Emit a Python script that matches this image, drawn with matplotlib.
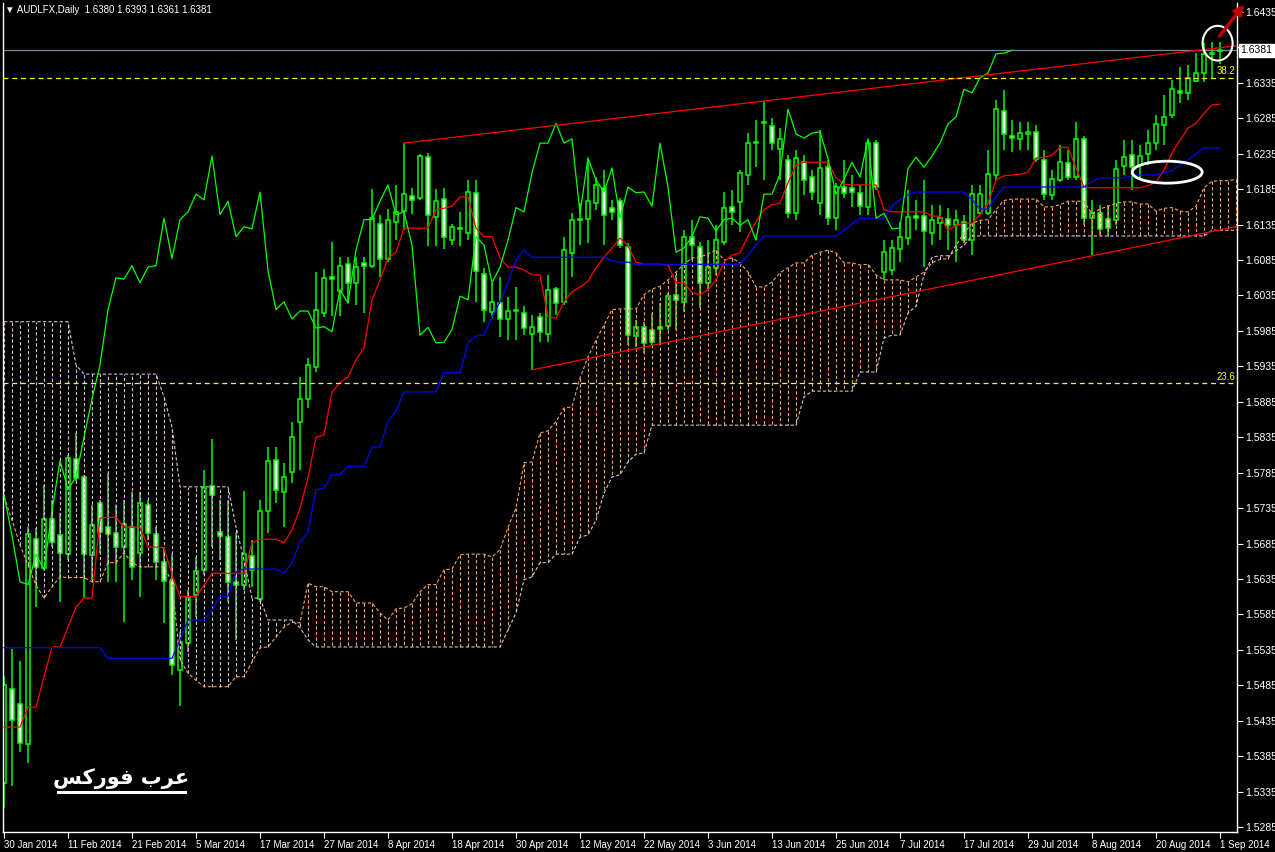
import numpy as np
import matplotlib
matplotlib.use("Agg")
import matplotlib.pyplot as plt
from matplotlib.patches import Ellipse

# AUDLFX daily candles, bar 0 = 30 Jan 2014
opens = [
    1.5347, 1.5480, 1.5459, 1.5402, 1.5691, 1.5651, 1.5720, 1.5697, 1.5670, 1.5804,
    1.5779, 1.5669, 1.5742, 1.5708, 1.5700, 1.5680, 1.5708, 1.5672, 1.5739, 1.5699,
    1.5659, 1.5632, 1.5507, 1.5545, 1.5612, 1.5648, 1.5766, 1.5701, 1.5694, 1.5631,
    1.5627, 1.5667, 1.5607, 1.5731, 1.5803, 1.5758, 1.5786, 1.5857, 1.5889, 1.5934,
    1.6010, 1.6061, 1.6041, 1.6080, 1.6053, 1.6081, 1.6077, 1.6136, 1.6087, 1.6139,
    1.6154, 1.6175, 1.6173, 1.6231, 1.6146, 1.6171, 1.6113, 1.6130, 1.6123, 1.6180,
    1.6065, 1.6012, 1.6024, 1.6002, 1.6015, 1.6010, 1.5980, 1.6004, 1.5981, 1.6044,
    1.6026, 1.6095, 1.6143, 1.6143, 1.6166, 1.6187, 1.6159, 1.6168, 1.6104, 1.5978,
    1.5990, 1.5986, 1.5991, 1.5992, 1.6036, 1.6026, 1.6118, 1.6104, 1.6053, 1.6074,
    1.6111, 1.6160, 1.6167, 1.6205, 1.6252, 1.6280, 1.6274, 1.6241, 1.6226, 1.6151,
    1.6223, 1.6202, 1.6166, 1.6216, 1.6144, 1.6188, 1.6186, 1.6180, 1.6160, 1.6250,
    1.6068, 1.6071, 1.6101, 1.6116, 1.6147, 1.6147, 1.6123, 1.6137, 1.6143, 1.6134,
    1.6139, 1.6113, 1.6151, 1.6151, 1.6205, 1.6295, 1.6260, 1.6256, 1.6263, 1.6266,
    1.6226, 1.6177, 1.6198, 1.6222, 1.6202, 1.6256, 1.6144, 1.6151, 1.6143, 1.6142,
    1.6217, 1.6233, 1.6219, 1.6235, 1.6250, 1.6276, 1.6290, 1.6324, 1.6321, 1.6338,
    1.6349, 1.6376, 1.6380,
]
highs = [
    1.5498, 1.5536, 1.5519, 1.5708, 1.5707, 1.5768, 1.5747, 1.5728, 1.5810, 1.5841,
    1.5782, 1.5739, 1.5747, 1.5785, 1.5739, 1.5747, 1.5758, 1.5758, 1.5747, 1.5708,
    1.5680, 1.5670, 1.5560, 1.5619, 1.5666, 1.5789, 1.5833, 1.5747, 1.5747, 1.5700,
    1.5759, 1.5690, 1.5747, 1.5821, 1.5821, 1.5799, 1.5857, 1.5920, 1.5947, 1.6068,
    1.6072, 1.6111, 1.6089, 1.6089, 1.6089, 1.6089, 1.6185, 1.6149, 1.6157, 1.6191,
    1.6250, 1.6187, 1.6235, 1.6236, 1.6185, 1.6187, 1.6136, 1.6153, 1.6198, 1.6198,
    1.6074, 1.6053, 1.6061, 1.6033, 1.6047, 1.6020, 1.6007, 1.6010, 1.6064, 1.6047,
    1.6118, 1.6151, 1.6166, 1.6229, 1.6202, 1.6212, 1.6170, 1.6173, 1.6109, 1.6000,
    1.5998, 1.6010, 1.6024, 1.6039, 1.6064, 1.6128, 1.6142, 1.6111, 1.6113, 1.6134,
    1.6181, 1.6184, 1.6212, 1.6264, 1.6283, 1.6309, 1.6285, 1.6272, 1.6233, 1.6240,
    1.6233, 1.6212, 1.6269, 1.6226, 1.6194, 1.6226, 1.6205, 1.6191, 1.6254, 1.6254,
    1.6113, 1.6113, 1.6139, 1.6184, 1.6170, 1.6198, 1.6163, 1.6163, 1.6159, 1.6156,
    1.6149, 1.6191, 1.6191, 1.6240, 1.6311, 1.6325, 1.6283, 1.6280, 1.6280, 1.6276,
    1.6240, 1.6212, 1.6247, 1.6240, 1.6280, 1.6260, 1.6170, 1.6163, 1.6163, 1.6226,
    1.6254, 1.6254, 1.6247, 1.6269, 1.6290, 1.6318, 1.6339, 1.6357, 1.6360, 1.6377,
    1.6391, 1.6393, 1.6393,
]
lows = [
    1.5312, 1.5343, 1.5391, 1.5375, 1.5596, 1.5648, 1.5680, 1.5603, 1.5662, 1.5773,
    1.5608, 1.5634, 1.5672, 1.5631, 1.5631, 1.5574, 1.5634, 1.5610, 1.5690, 1.5634,
    1.5573, 1.5500, 1.5456, 1.5532, 1.5581, 1.5641, 1.5680, 1.5662, 1.5603, 1.5549,
    1.5620, 1.5624, 1.5603, 1.5700, 1.5742, 1.5708, 1.5770, 1.5789, 1.5876, 1.5927,
    1.6005, 1.6006, 1.6006, 1.6024, 1.6022, 1.6010, 1.6074, 1.6061, 1.6082, 1.6113,
    1.6127, 1.6150, 1.6170, 1.6105, 1.6105, 1.6101, 1.6106, 1.6105, 1.6113, 1.6026,
    1.5998, 1.6003, 1.5976, 1.5972, 1.5972, 1.5979, 1.5930, 1.5969, 1.5969, 1.6007,
    1.6022, 1.6061, 1.6106, 1.6109, 1.6156, 1.6106, 1.6142, 1.6102, 1.5965, 1.5962,
    1.5954, 1.5965, 1.5965, 1.5986, 1.5986, 1.6012, 1.6085, 1.6017, 1.6043, 1.6064,
    1.6106, 1.6134, 1.6125, 1.6191, 1.6216, 1.6198, 1.6240, 1.6198, 1.6144, 1.6142,
    1.6177, 1.6170, 1.6149, 1.6135, 1.6127, 1.6173, 1.6160, 1.6149, 1.6149, 1.6184,
    1.6057, 1.6064, 1.6082, 1.6106, 1.6127, 1.6075, 1.6106, 1.6113, 1.6099, 1.6082,
    1.6109, 1.6092, 1.6149, 1.6149, 1.6198, 1.6240, 1.6237, 1.6240, 1.6240, 1.6223,
    1.6170, 1.6170, 1.6195, 1.6198, 1.6198, 1.6135, 1.6092, 1.6120, 1.6120, 1.6135,
    1.6205, 1.6184, 1.6198, 1.6219, 1.6240, 1.6247, 1.6285, 1.6307, 1.6311, 1.6336,
    1.6336, 1.6341, 1.6361,
]
closes = [
    1.5485, 1.5436, 1.5404, 1.5699, 1.5652, 1.5719, 1.5687, 1.5672, 1.5806, 1.5777,
    1.5670, 1.5711, 1.5701, 1.5699, 1.5680, 1.5713, 1.5652, 1.5742, 1.5700, 1.5659,
    1.5632, 1.5514, 1.5546, 1.5610, 1.5646, 1.5763, 1.5754, 1.5696, 1.5631, 1.5627,
    1.5670, 1.5648, 1.5731, 1.5802, 1.5761, 1.5779, 1.5835, 1.5889, 1.5937, 1.6015,
    1.6060, 1.6058, 1.6077, 1.6053, 1.6075, 1.6077, 1.6144, 1.6087, 1.6142, 1.6153,
    1.6178, 1.6170, 1.6232, 1.6149, 1.6168, 1.6118, 1.6132, 1.6129, 1.6181, 1.6070,
    1.6015, 1.6026, 1.6002, 1.6013, 1.6013, 1.5989, 1.5991, 1.5984, 1.6043, 1.6024,
    1.6099, 1.6142, 1.6142, 1.6168, 1.6191, 1.6149, 1.6153, 1.6106, 1.5979, 1.5990,
    1.5968, 1.5969, 1.5987, 1.6034, 1.6029, 1.6118, 1.6106, 1.6053, 1.6075, 1.6113,
    1.6159, 1.6153, 1.6208, 1.6250, 1.6250, 1.6278, 1.6250, 1.6256, 1.6151, 1.6229,
    1.6198, 1.6181, 1.6215, 1.6144, 1.6188, 1.6180, 1.6181, 1.6161, 1.6250, 1.6188,
    1.6096, 1.6102, 1.6118, 1.6146, 1.6144, 1.6126, 1.6142, 1.6144, 1.6134, 1.6142,
    1.6113, 1.6178, 1.6178, 1.6206, 1.6298, 1.6263, 1.6257, 1.6264, 1.6266, 1.6228,
    1.6178, 1.6199, 1.6223, 1.6202, 1.6256, 1.6144, 1.6151, 1.6129, 1.6130, 1.6214,
    1.6230, 1.6216, 1.6232, 1.6250, 1.6277, 1.6287, 1.6326, 1.6321, 1.6342, 1.6349,
    1.6376, 1.6377, 1.6381,
]

# Ichimoku lines
tenkan = [
    1.5426, 1.5426, 1.5426, 1.5454, 1.5454, 1.5497, 1.5539, 1.5539, 1.5567, 1.5595,
    1.5608, 1.5608, 1.5721, 1.5722, 1.5722, 1.5708, 1.5708, 1.5708, 1.5680, 1.5680,
    1.5679, 1.5641, 1.5610, 1.5610, 1.5610, 1.5626, 1.5643, 1.5643, 1.5643, 1.5643,
    1.5643, 1.5686, 1.5691, 1.5691, 1.5691, 1.5686, 1.5704, 1.5735, 1.5778, 1.5835,
    1.5838, 1.5899, 1.5912, 1.5920, 1.5944, 1.5961, 1.6029, 1.6057, 1.6088, 1.6096,
    1.6130, 1.6130, 1.6130, 1.6130, 1.6156, 1.6158, 1.6161, 1.6174, 1.6174, 1.6130,
    1.6118, 1.6118, 1.6088, 1.6075, 1.6075, 1.6071, 1.6064, 1.6064, 1.6005, 1.6003,
    1.6026, 1.6040, 1.6047, 1.6055, 1.6074, 1.6089, 1.6102, 1.6116, 1.6105, 1.6082,
    1.6079, 1.6079, 1.6079, 1.6078, 1.6053, 1.6053, 1.6039, 1.6036, 1.6043, 1.6057,
    1.6082, 1.6092, 1.6095, 1.6119, 1.6139, 1.6156, 1.6163, 1.6165, 1.6194, 1.6219,
    1.6223, 1.6223, 1.6223, 1.6223, 1.6201, 1.6192, 1.6191, 1.6191, 1.6191, 1.6191,
    1.6156, 1.6153, 1.6153, 1.6153, 1.6153, 1.6153, 1.6147, 1.6147, 1.6127, 1.6134,
    1.6137, 1.6137, 1.6149, 1.6165, 1.6198, 1.6204, 1.6205, 1.6206, 1.6209, 1.6229,
    1.6230, 1.6233, 1.6244, 1.6244, 1.6215, 1.6188, 1.6187, 1.6187, 1.6187, 1.6187,
    1.6187, 1.6187, 1.6187, 1.6190, 1.6195, 1.6212, 1.6236, 1.6254, 1.6271, 1.6278,
    1.6292, 1.6304, 1.6305,
]
kijun = [
    1.5538, 1.5538, 1.5538, 1.5538, 1.5538, 1.5538, 1.5538, 1.5538, 1.5538, 1.5538,
    1.5538, 1.5538, 1.5538, 1.5523, 1.5523, 1.5523, 1.5523, 1.5523, 1.5523, 1.5523,
    1.5523, 1.5523, 1.5549, 1.5577, 1.5577, 1.5577, 1.5591, 1.5610, 1.5610, 1.5645,
    1.5649, 1.5649, 1.5649, 1.5649, 1.5649, 1.5643, 1.5658, 1.5687, 1.5701, 1.5761,
    1.5763, 1.5782, 1.5782, 1.5794, 1.5794, 1.5794, 1.5821, 1.5821, 1.5857, 1.5872,
    1.5899, 1.5899, 1.5899, 1.5899, 1.5899, 1.5926, 1.5926, 1.5926, 1.5968, 1.5978,
    1.5979, 1.6005, 1.6026, 1.6053, 1.6085, 1.6099, 1.6089, 1.6089, 1.6089, 1.6089,
    1.6089, 1.6089, 1.6089, 1.6089, 1.6089, 1.6089, 1.6084, 1.6082, 1.6082, 1.6079,
    1.6079, 1.6079, 1.6079, 1.6079, 1.6079, 1.6079, 1.6079, 1.6079, 1.6079, 1.6079,
    1.6079, 1.6079, 1.6079, 1.6092, 1.6106, 1.6119, 1.6119, 1.6119, 1.6119, 1.6119,
    1.6119, 1.6119, 1.6119, 1.6119, 1.6119, 1.6127, 1.6136, 1.6144, 1.6144, 1.6144,
    1.6144, 1.6161, 1.6170, 1.6177, 1.6181, 1.6181, 1.6181, 1.6181, 1.6181, 1.6181,
    1.6181, 1.6170, 1.6157, 1.6157, 1.6175, 1.6188, 1.6188, 1.6188, 1.6188, 1.6188,
    1.6188, 1.6188, 1.6188, 1.6188, 1.6188, 1.6188, 1.6196, 1.6201, 1.6201, 1.6201,
    1.6201, 1.6204, 1.6205, 1.6205, 1.6205, 1.6208, 1.6211, 1.6219, 1.6226, 1.6235,
    1.6243, 1.6243, 1.6243,
]
senkou_a = [
    1.5751, 1.5718, 1.5683, 1.5655, 1.5626, 1.5608, 1.5624, 1.5638, 1.5637, 1.5637,
    1.5637, 1.5631, 1.5631, 1.5658, 1.5658, 1.5672, 1.5658, 1.5652, 1.5652, 1.5652,
    1.5652, 1.5631, 1.5521, 1.5502, 1.5492, 1.5483, 1.5483, 1.5483, 1.5483, 1.5497,
    1.5497, 1.5518, 1.5538, 1.5539, 1.5553, 1.5567, 1.5574, 1.5573, 1.5629, 1.5624,
    1.5624, 1.5617, 1.5617, 1.5617, 1.5601, 1.5601, 1.5601, 1.5587, 1.5577, 1.5593,
    1.5594, 1.5600, 1.5617, 1.5627, 1.5627, 1.5648, 1.5649, 1.5669, 1.5670, 1.5670,
    1.5670, 1.5666, 1.5676, 1.5708, 1.5735, 1.5799, 1.5800, 1.5841, 1.5844, 1.5857,
    1.5876, 1.5878, 1.5919, 1.5948, 1.5972, 1.5993, 1.6015, 1.6016, 1.6016, 1.6016,
    1.6036, 1.6044, 1.6048, 1.6057, 1.6068, 1.6079, 1.6088, 1.6089, 1.6094, 1.6099,
    1.6085, 1.6088, 1.6081, 1.6068, 1.6047, 1.6047, 1.6054, 1.6067, 1.6074, 1.6081,
    1.6081, 1.6092, 1.6096, 1.6099, 1.6095, 1.6081, 1.6081, 1.6078, 1.6079, 1.6064,
    1.6057, 1.6057, 1.6057, 1.6054, 1.6061, 1.6068, 1.6081, 1.6086, 1.6087, 1.6106,
    1.6123, 1.6137, 1.6141, 1.6142, 1.6156, 1.6169, 1.6171, 1.6171, 1.6171, 1.6171,
    1.6160, 1.6160, 1.6163, 1.6168, 1.6168, 1.6168, 1.6150, 1.6157, 1.6161, 1.6165,
    1.6167, 1.6167, 1.6164, 1.6164, 1.6154, 1.6158, 1.6159, 1.6154, 1.6153, 1.6161,
    1.6187, 1.6196, 1.6197, 1.6197, 1.6199,
]
senkou_b = [
    1.5998, 1.5998, 1.5998, 1.5998, 1.5998, 1.5998, 1.5998, 1.5998, 1.5998, 1.5937,
    1.5924, 1.5924, 1.5924, 1.5924, 1.5924, 1.5924, 1.5924, 1.5924, 1.5924, 1.5924,
    1.5892, 1.5849, 1.5765, 1.5765, 1.5765, 1.5765, 1.5765, 1.5765, 1.5765, 1.5708,
    1.5662, 1.5608, 1.5608, 1.5577, 1.5577, 1.5577, 1.5577, 1.5566, 1.5549, 1.5539,
    1.5539, 1.5539, 1.5539, 1.5539, 1.5539, 1.5539, 1.5539, 1.5539, 1.5539, 1.5539,
    1.5539, 1.5539, 1.5539, 1.5539, 1.5539, 1.5539, 1.5539, 1.5539, 1.5539, 1.5539,
    1.5539, 1.5539, 1.5539, 1.5563, 1.5587, 1.5634, 1.5638, 1.5658, 1.5658, 1.5670,
    1.5670, 1.5670, 1.5694, 1.5697, 1.5718, 1.5756, 1.5779, 1.5782, 1.5800, 1.5811,
    1.5813, 1.5852, 1.5852, 1.5852, 1.5852, 1.5852, 1.5852, 1.5852, 1.5852, 1.5852,
    1.5852, 1.5852, 1.5852, 1.5852, 1.5852, 1.5852, 1.5852, 1.5852, 1.5852, 1.5852,
    1.5892, 1.5900, 1.5900, 1.5900, 1.5900, 1.5900, 1.5900, 1.5927, 1.5927, 1.5927,
    1.5975, 1.5979, 1.5979, 1.6010, 1.6020, 1.6064, 1.6089, 1.6091, 1.6091, 1.6098,
    1.6106, 1.6119, 1.6119, 1.6119, 1.6119, 1.6119, 1.6119, 1.6119, 1.6119, 1.6119,
    1.6119, 1.6119, 1.6119, 1.6119, 1.6119, 1.6119, 1.6119, 1.6119, 1.6119, 1.6119,
    1.6119, 1.6119, 1.6119, 1.6119, 1.6119, 1.6119, 1.6119, 1.6119, 1.6119, 1.6119,
    1.6119, 1.6127, 1.6127, 1.6127, 1.6127,
]

date_labels = [
    "30 Jan 2014", "11 Feb 2014", "21 Feb 2014", "5 Mar 2014", "17 Mar 2014",
    "27 Mar 2014", "8 Apr 2014", "18 Apr 2014", "30 Apr 2014", "12 May 2014",
    "22 May 2014", "3 Jun 2014", "13 Jun 2014", "25 Jun 2014", "7 Jul 2014",
    "17 Jul 2014", "29 Jul 2014", "8 Aug 2014", "20 Aug 2014", "1 Sep 2014",
]

# trend lines (bar, price) and fibo levels
upper_trend = ([50, 150], [1.6250, 1.6382])
lower_trend = ([66, 150], [1.5930, 1.6123])
fib_levels = [(1.6342, "38.2"), (1.5911, "23.6")]
bid = 1.6381

GREEN = "#00ff00"
SANDY = "#f4a460"
THISTLE = "#d8bfd8"


def main():
    plt.rcParams['font.family'] = ['Liberation Sans', 'DejaVu Sans']
    fig = plt.figure(figsize=(12.75, 8.52), dpi=100, facecolor='black')
    ax = fig.add_axes([3 / 1275, 20 / 852, 1234 / 1275, 829 / 852], facecolor='black')
    xmin, xmax = -0.125, 154.125
    ax.set_xlim(xmin, xmax)
    ax.set_ylim(1.52779, 1.64477)

    o = np.array(opens)
    h = np.array(highs)
    l = np.array(lows)
    c = np.array(closes)
    x = np.arange(len(c))

    # candles
    ax.vlines(x, l, h, color=GREEN, lw=1.1, zorder=2)
    body_h = np.maximum(np.abs(c - o), 0.00002)
    fc = np.where(c >= o, 'black', 'white')
    ax.bar(x, body_h, bottom=np.minimum(o, c), width=0.62, color=fc,
           edgecolor=GREEN, linewidth=1.1, zorder=2.5)

    # kumo
    sa = np.array(senkou_a)
    sb = np.array(senkou_b)
    xs = np.arange(len(sa))
    cols = np.where(sa >= sb, SANDY, THISTLE)
    ax.vlines(xs, sa, sb, colors=list(cols), linestyles=[(0, (3, 2))], lw=0.8, zorder=3)
    ax.plot(xs, sa, color=SANDY, lw=0.8, ls=(0, (3, 2)), zorder=3)
    ax.plot(xs, sb, color=THISTLE, lw=0.8, ls=(0, (3, 2)), zorder=3)

    # tenkan, kijun, chikou
    ax.plot(x, tenkan, color='red', lw=0.9, zorder=4)
    ax.plot(x, kijun, color='blue', lw=0.9, zorder=4)
    ax.plot(x[:len(c) - 26], c[26:], color=GREEN, lw=0.9, zorder=4)

    # trend lines, extended to the right edge
    for (bx, py) in (upper_trend, lower_trend):
        slope = (py[1] - py[0]) / (bx[1] - bx[0])
        ax.plot([bx[0], xmax], [py[0], py[0] + slope * (xmax - bx[0])],
                color='red', lw=0.9, zorder=5)

    # fibo levels
    for lvl, txt in fib_levels:
        ax.axhline(lvl, color='yellow', lw=0.9, ls=(0, (4, 3)), zorder=5)
        ax.text(xmax - 0.2, lvl + 0.0002, txt, color='yellow', fontsize=7,
                ha='right', va='bottom', zorder=6)

    # bid line + price box
    ax.axhline(bid, color='#778899', lw=0.9, zorder=1.5)
    ax.text(1.003, bid, "%.4f" % bid, transform=ax.get_yaxis_transform(),
            ha='left', va='center', fontsize=7.5, color='black', clip_on=False,
            bbox=dict(facecolor='white', edgecolor='white', pad=1.0), zorder=10)

    # annotations: circle, oval, arrow
    ax.add_patch(Ellipse((151.7, 1.6391), 3.75, 0.0049, fill=False,
                         ec='white', lw=1.5, zorder=8))
    ax.add_patch(Ellipse((145.4, 1.6209), 8.75, 0.0031, fill=False,
                         ec='white', lw=2, zorder=8))
    ax.annotate('', xy=(155.25, 1.6449), xytext=(151.75, 1.6398),
                arrowprops=dict(arrowstyle='-|>', color='#c00000', lw=2.5,
                                mutation_scale=14),
                annotation_clip=False, zorder=11)

    # axes styling; the tick under the bid box has no label
    ax.yaxis.tick_right()
    yt = np.arange(1.5285, 1.6436, 0.005)
    ax.set_yticks(yt)
    ax.set_yticklabels(["" if abs(v - bid) < 0.001 else "%.4f" % v for v in yt])
    ax.set_xticks(range(0, len(c), 8))
    ax.set_xticklabels(date_labels, ha='left')
    ax.tick_params(axis='y', colors='white', labelsize=7.5, length=4, width=0.8, pad=2)
    ax.tick_params(axis='x', colors='white', labelsize=7, length=4, width=0.8, pad=2)
    for side in ('left', 'right', 'bottom'):
        ax.spines[side].set_color('white')
        ax.spines[side].set_linewidth(1)
    ax.spines['top'].set_visible(False)

    # header and watermark
    fig.text(5 / 1275, 1 - 10 / 852,
             "\u25bc AUDLFX,Daily  %.4f %.4f %.4f %.4f" % (opens[-1], highs[-1], lows[-1], closes[-1]),
             color='white', fontsize=7, va='center', ha='left')
    ax.text(0.096, 0.064, "\ufeb2\ufedb\ufead\ufeee\ufed3 \ufe8f\ufeae\ufecb",
            transform=ax.transAxes, family=['DejaVu Sans'], fontsize=15,
            fontweight='bold', color='white', ha='center', va='center', zorder=9)
    ax.plot([0.0446, 0.1475], [0.0483, 0.0483], transform=ax.transAxes,
            color='white', lw=2.2, zorder=9)

    fig.savefig("out.png", dpi=100, facecolor='black')


if __name__ == "__main__":
    main()
